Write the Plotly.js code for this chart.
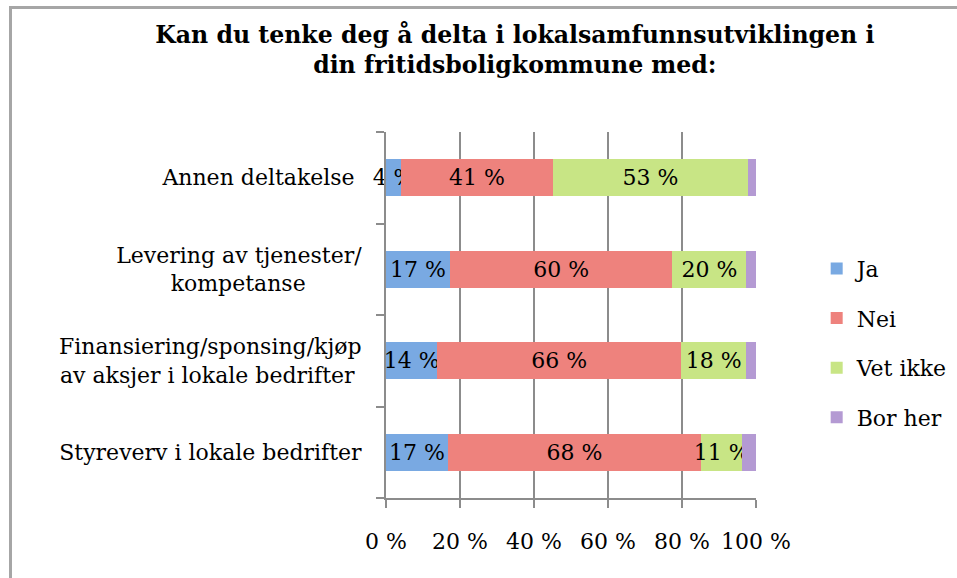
<!DOCTYPE html>
<html>
<head>
<meta charset="utf-8">
<script src="https://cdn.plot.ly/plotly-3.0.1.min.js"></script>
<style>
  html, body { margin: 0; padding: 0; background: #fff; }
  #wrap { position: relative; width: 957px; height: 578px; overflow: hidden; }
  #chart { width: 957px; height: 578px; }
  #frame { position: absolute; left: 9px; top: 6px; width: 1000px; height: 700px;
           border-left: 3px solid #a6a6a6; border-top: 3px solid #a6a6a6; pointer-events: none; }
</style>
</head>
<body>
<div id="wrap">
  <div id="chart"></div>
  <div id="frame"></div>
</div>
<script>
// Categories (bottom to top)
const categories = [
  "Styreverv i lokale bedrifter",
  "Finansiering/sponsing/kjøp<br>av aksjer i lokale bedrifter\u00a0",
  "Levering av tjenester/<br>kompetanse\u00a0\u00a0\u00a0\u00a0\u00a0\u00a0\u00a0\u00a0",
  "Annen deltakelse\u00a0"
];
const seriesNames = ["Ja", "Nei", "Vet ikke", "Bor her"];
const ja      = [16.7, 13.9, 17.3, 4.1];
const nei     = [68.5, 65.8, 60.1, 41.0];
const vetIkke = [11.1, 17.7, 20.0, 52.7];
const borHer  = [3.7, 2.6, 2.6, 2.2];
const jaLabels      = ["17 %", "14 %", "17 %", "4 %"];
const neiLabels     = ["68 %", "66 %", "60 %", "41 %"];
const vetIkkeLabels = ["11 %", "18 %", "20 %", "53 %"];
const borHerLabels  = ["", "", "", ""];
const xTickVals = [0, 20, 40, 60, 80, 100];
const xTickText = ["0 %", "20 %", "40 %", "60 %", "80 %", "100 %"];

const colors = ["#79a9e2", "#ee827d", "#c8e585", "#b49ad3"];
const values = [ja, nei, vetIkke, borHer];
const labels = [jaLabels, neiLabels, vetIkkeLabels, borHerLabels];
const FONT = "DejaVu Serif, serif";
const FS = 22;

const traces = seriesNames.map((name, i) => ({
  type: "bar",
  orientation: "h",
  name: name,
  y: categories,
  x: values[i],
  text: labels[i],
  textposition: "inside",
  insidetextanchor: "middle",
  textangle: 0,
  constraintext: "none",
  textfont: { family: FONT, size: FS, color: "#000" },
  cliponaxis: false,
  marker: { color: colors[i], line: { width: 0 } },
  legendgroup: "g" + i,
  hoverinfo: "none"
}));

const layout = {
  width: 957,
  height: 578,
  margin: { l: 386, r: 201, t: 132, b: 80, autoexpand: false },
  paper_bgcolor: "#fff",
  plot_bgcolor: "#fff",
  barmode: "stack",
  bargap: 0.595,
  font: { family: FONT, size: FS, color: "#000" },
  title: {
    text: "<b>Kan du tenke deg å delta i lokalsamfunnsutviklingen i<br>din fritidsboligkommune med:</b>",
    font: { family: FONT, size: 23.6, color: "#000" },
    x: 0.538, xref: "container", xanchor: "center",
    y: 0.926, yref: "container", yanchor: "top"
  },
  xaxis: {
    range: [0, 100],
    tickvals: xTickVals,
    ticktext: xTickText,
    showgrid: true,
    gridcolor: "#8c8c8c",
    gridwidth: 2,
    zeroline: false,
    showline: true,
    linecolor: "#8c8c8c",
    linewidth: 2,
    ticks: "outside",
    ticklen: 8,
    tickwidth: 2,
    tickcolor: "#8c8c8c",
    ticklabelstandoff: 15,
    tickfont: { family: FONT, size: FS, color: "#000" },
    automargin: false,
    fixedrange: true
  },
  yaxis: {
    type: "category",
    showline: true,
    linecolor: "#8c8c8c",
    linewidth: 2,
    ticks: "outside",
    tickson: "boundaries",
    ticklen: 8,
    tickwidth: 2,
    tickcolor: "#8c8c8c",
    showgrid: false,
    ticklabelstandoff: 18,
    tickfont: { family: FONT, size: FS, color: "#000" },
    automargin: false,
    fixedrange: true
  },
  legend: {
    x: 1.164, xanchor: "left",
    y: 0.423, yanchor: "middle",
    traceorder: "grouped",
    tracegroupgap: 18,
    font: { family: FONT, size: FS, color: "#000" },
    itemwidth: 30
  },
  showlegend: true
};

Plotly.newPlot("chart", traces, layout, { displayModeBar: false, staticPlot: true });
</script>
</body>
</html>
